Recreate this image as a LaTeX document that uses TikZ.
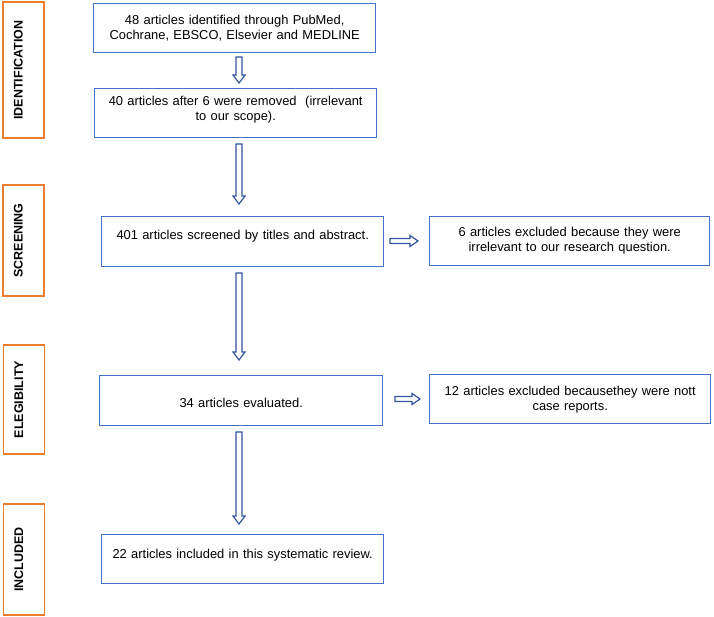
\documentclass[tikz,border=0pt]{standalone}
\usepackage{fontspec}
\setmainfont{Liberation Sans}
\usetikzlibrary{calc}
\definecolor{boxblue}{RGB}{68,114,196}
\definecolor{arrblue}{RGB}{52,84,160}
\definecolor{laborange}{RGB}{237,125,49}
\tikzset{
  mainbox/.style={draw=boxblue, line width=1.4pt, inner sep=0pt, align=center, anchor=north west,
    font=\fontsize{12.9}{15.3}\selectfont},
  stagebox/.style={draw=laborange, line width=1.5pt, inner sep=0pt, rotate=90,
    text height=19.5pt, text depth=21.5pt, font=\fontsize{12.5}{14}\selectfont\bfseries},
  blockarr/.style={draw=arrblue, line width=1.2pt, fill=white, line join=miter}
}
\newcommand\varrow[2]{%
  \draw[blockarr] ($(#1)+(-3,0)$) -- ($(#2)+(-3,-8)$) -- ($(#2)+(-6,-8)$) -- (#2)
    -- ($(#2)+(6,-8)$) -- ($(#2)+(3,-8)$) -- ($(#1)+(3,0)$) -- cycle;}
\newcommand\harrow[2]{%
  \draw[blockarr] ($(#1)+(0,-2.5)$) -- ($(#2)+(-8,-2.5)$) -- ($(#2)+(-8,-5.5)$) -- (#2)
    -- ($(#2)+(-8,5.5)$) -- ($(#2)+(-8,2.5)$) -- ($(#1)+(0,2.5)$) -- cycle;}
\begin{document}
\begin{tikzpicture}[x=1pt,y=-1pt]
\useasboundingbox[fill=white] (0,0) rectangle (714,617);

% stage labels
\node[stagebox, minimum width=136pt] (sid) at (23.5,70) {IDENTIFICATION};
\node[stagebox, minimum width=111pt] (ssc) at (23.5,240.5) {SCREENING};
\node[stagebox, minimum width=109pt] (sel) at (24,399.5) {ELEGIBILITY};
\node[stagebox, minimum width=111pt] (sin) at (24,559.5) {INCLUDED};

% main boxes
\node[mainbox, text width=282pt, text height=20.6pt, text depth=28.4pt] (b1) at (93,3)
  {48 articles identified through PubMed,\\Cochrane, EBSCO, Elsevier and MEDLINE};
\node[mainbox, text width=282pt, text height=16.6pt, text depth=32.4pt] (b2) at (94,88)
  {40 articles after 6 were removed\ \ (irrelevant\\to our scope).};
\node[mainbox, text width=282pt, text height=22.6pt, text depth=27.4pt] (b3) at (101,216)
  {401 articles screened by titles and abstract.};
\node[mainbox, text width=283pt, text height=31.6pt, text depth=18.4pt] (b4) at (99,375)
  {34 articles evaluated.};
\node[mainbox, text width=282pt, text height=23.6pt, text depth=25.4pt] (b5) at (101,534)
  {22 articles included in this systematic review.};
\node[mainbox, text width=280pt, text height=19.6pt, text depth=29.4pt] (r3) at (429,216)
  {6 articles excluded because they were\\irrelevant to our research question.};
\node[mainbox, text width=281pt, text height=20.6pt, text depth=28.4pt] (r4) at (429,374)
  {12 articles excluded becausethey were nott\\case reports.};

% arrow end points
\coordinate (a1s) at (239,57);  \coordinate (a1e) at (239,83);
\coordinate (a2s) at (239,144); \coordinate (a2e) at (239,204);
\coordinate (a3s) at (239,273); \coordinate (a3e) at (239,360);
\coordinate (a4s) at (239,432); \coordinate (a4e) at (239,524);
\coordinate (h1s) at (390,241); \coordinate (h1e) at (418,241);
\coordinate (h2s) at (395,399); \coordinate (h2e) at (420,399);

\varrow{a1s}{a1e}
\varrow{a2s}{a2e}
\varrow{a3s}{a3e}
\varrow{a4s}{a4e}
\harrow{h1s}{h1e}
\harrow{h2s}{h2e}
\end{tikzpicture}
\end{document}
